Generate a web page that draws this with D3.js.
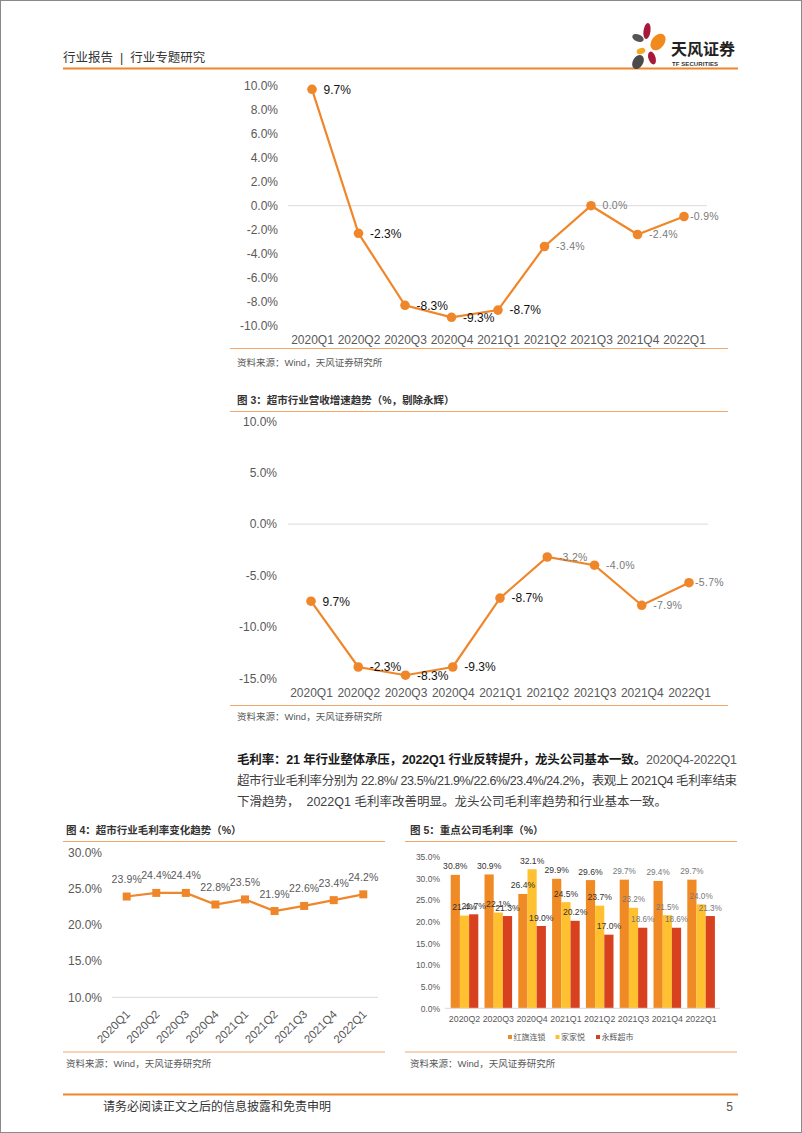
<!DOCTYPE html>
<html><head><meta charset="utf-8">
<script src="https://cdn.jsdelivr.net/npm/d3@7"></script>
<style>
body{margin:0;background:#fff}
svg{display:block}
text{font-family:"Liberation Sans",Arial,"Noto Sans CJK SC",sans-serif}
</style>
</head><body>
<svg id="page" width="802" height="1133"></svg>
<script>
// ---------- data ----------
const quartersA = ["2020Q1","2020Q2","2020Q3","2020Q4","2021Q1","2021Q2","2021Q3","2021Q4","2022Q1"];
const growthAll = [9.7,-2.3,-8.3,-9.3,-8.7,-3.4,0.0,-2.4,-0.9];
const growthAllLabels = ["9.7%","-2.3%","-8.3%","-9.3%","-8.7%","-3.4%","0.0%","-2.4%","-0.9%"];
const growthAllTicks = [10,8,6,4,2,0,-2,-4,-6,-8,-10];

const growthEx = [-7.5,-13.9,-14.7,-13.9,-7.2,-3.2,-4.0,-7.9,-5.7];
const growthExLabels = ["9.7%","-2.3%","-8.3%","-9.3%","-8.7%","-3.2%","-4.0%","-7.9%","-5.7%"];
const growthExTicks = [10,5,0,-5,-10,-15];

const grossMargin = [23.9,24.4,24.4,22.8,23.5,21.9,22.6,23.4,24.2];
const grossTicks = [30,25,20,15,10];

const quartersB = ["2020Q2","2020Q3","2020Q4","2021Q1","2021Q2","2021Q3","2021Q4","2022Q1"];
const companies = ["红旗连锁","家家悦","永辉超市"];
const hongqi = [30.8,30.9,26.4,29.9,29.6,29.7,29.4,29.7];
const jiajiayue = [21.4,22.1,32.1,24.5,23.7,23.2,21.5,24.0];
const yonghui = [21.7,21.3,19.0,20.2,17.0,18.6,18.6,21.3];
const companyTicks = [35,30,25,20,15,10,5,0];

// ---------- styles ----------
const ORANGE = "#F0862A";
const LINE = "#F2A66A";
const GRID = "#D9D9D9";
const AX = "#595959";
const barColors = ["#F08A24","#FFC12F","#D8411F"];

const svg = d3.select("#page");
svg.append("rect").attr("x",0.5).attr("y",0.5).attr("width",801).attr("height",1132)
   .attr("fill","#fff").attr("stroke","#8a8a8a").attr("stroke-width",1);

// ---------- header ----------
svg.append("text").attr("x",63).attr("y",62).attr("font-size",12.5).attr("fill","#333")
   .style("white-space","pre").text("行业报告  |  行业专题研究");
svg.append("line").attr("x1",63).attr("x2",738).attr("y1",68.5).attr("y2",68.5)
   .attr("stroke",ORANGE).attr("stroke-width",2);
// logo
const logo = svg.append("g");
const petals = [
  {cx:647,cy:31,rx:3.5,ry:8,r:8,c:"#A8183A"},
  {cx:658,cy:42,rx:6.3,ry:9.3,r:38,c:"#F18A1C"},
  {cx:638,cy:38,rx:6,ry:3.6,r:22,c:"#555"},
  {cx:641,cy:51,rx:4.4,ry:3,r:-20,c:"#F5A623"},
  {cx:652,cy:58,rx:3.6,ry:6.6,r:-18,c:"#A8183A"},
  {cx:638,cy:62,rx:5.2,ry:7.6,r:30,c:"#4a4a4a"}
];
petals.forEach(p=>{
  logo.append("ellipse").attr("cx",p.cx).attr("cy",p.cy).attr("rx",p.rx).attr("ry",p.ry)
    .attr("transform",`rotate(${p.r},${p.cx},${p.cy})`).attr("fill",p.c);
});
svg.append("text").attr("x",671).attr("y",55).attr("font-size",16).attr("font-weight","bold")
   .attr("fill","#222").style("font-family","'Noto Sans CJK SC'").text("天风证券");
svg.append("text").attr("x",672).attr("y",65.5).attr("font-size",6).attr("font-weight","bold")
   .attr("fill","#333").attr("textLength",46).text("TF SECURITIES");

// ---------- helpers ----------
function sepLine(x1,x2,y){
  svg.append("line").attr("x1",x1).attr("x2",x2).attr("y1",y).attr("y2",y)
     .attr("stroke",LINE).attr("stroke-width",1.2);
}
function source(x,y){
  svg.append("text").attr("x",x).attr("y",y).attr("font-size",9.5).attr("fill",AX)
     .text("资料来源：Wind，天风证券研究所");
}
function title(x,y,t){
  svg.append("text").attr("x",x).attr("y",y).attr("font-size",10.5).attr("font-weight","bold")
     .attr("fill","#333").text(t);
}
function styleAxis(g,size,color){
  g.select(".domain").remove();
  g.selectAll("text").attr("font-size",size).attr("fill",color||AX)
   .style("font-family","'Liberation Sans',Arial,sans-serif");
}

// ---------- line chart (charts 1 & 2) ----------
function lineChart(o){
  const x = d3.scalePoint().domain(quartersA).range([o.x0,o.x1]);
  const y = d3.scaleLinear().domain(o.ydom).range(o.yrange);
  const g = svg.append("g");
  const ya = g.append("g").attr("transform",`translate(${o.yLabX},0)`)
    .call(d3.axisLeft(y).tickValues(o.ticks).tickSize(0).tickPadding(0)
      .tickFormat(d=>d.toFixed(1)+"%"));
  styleAxis(ya,12);
  g.append("line").attr("x1",o.gx0).attr("x2",o.gx1).attr("y1",y(0)).attr("y2",y(0))
    .attr("stroke",GRID).attr("stroke-width",1);
  const xa = g.append("g").attr("transform",`translate(0,${o.xLabY-4.3})`)
    .call(d3.axisBottom(x).tickSize(0).tickPadding(0));
  styleAxis(xa,12);
  const pts = quartersA.map((q,i)=>({q,v:o.values[i],l:o.labels[i],i}));
  g.append("path").datum(pts).attr("fill","none").attr("stroke",ORANGE).attr("stroke-width",2.2)
    .attr("d",d3.line().x(d=>x(d.q)).y(d=>y(d.v)));
  g.selectAll("circle.pt").data(pts).join("circle").attr("class","pt")
    .attr("cx",d=>x(d.q)).attr("cy",d=>y(d.v)).attr("r",4.8).attr("fill",ORANGE);
  g.selectAll("text.lab").data(pts).join("text").attr("class","lab")
    .attr("x",d=>x(d.q)+(d.i===pts.length-1?6:11.5)).attr("y",d=>y(d.v)).attr("dy","0.36em")
    .attr("font-size",d=>d.i<5?12:10.5).attr("fill",d=>d.i<5?"#111":"#7a7a7a")
    .attr("letter-spacing",d=>d.i<5?0:0.3)
    .text(d=>d.l);
}

// chart 1
lineChart({values:growthAll,labels:growthAllLabels,ticks:growthAllTicks,
  x0:312,x1:684,ydom:[-10,10],yrange:[325.7,85.7],yLabX:278,gx0:288,gx1:707,xLabY:339.5});
sepLine(230,728,348.5);
source(237,365.5);

// chart 2
title(237,404,"图 3：超市行业营收增速趋势（%，剔除永辉）");
sepLine(230,728,411.5);
lineChart({values:growthEx,labels:growthExLabels,ticks:growthExTicks,
  x0:311,x1:689,ydom:[-15,10],yrange:[678.3,421.3],yLabX:277,gx0:288,gx1:708,xLabY:692.5});
sepLine(230,728,705.5);
source(237,720);

// ---------- paragraph ----------
const para = svg.append("g").attr("font-size",12.5);
const l1 = para.append("text").attr("x",237).attr("y",763.5).attr("textLength",500).attr("lengthAdjust","spacing");
l1.append("tspan").attr("font-weight","bold").attr("fill","#1a1a1a")
  .text("毛利率：21 年行业整体承压，2022Q1 行业反转提升，龙头公司基本一致。");
l1.append("tspan").attr("fill","#595959").text("2020Q4-2022Q1");
para.append("text").attr("x",237).attr("y",784.5).attr("textLength",500).attr("lengthAdjust","spacing")
  .attr("fill","#404040")
  .text("超市行业毛利率分别为 22.8%/ 23.5%/21.9%/22.6%/23.4%/24.2%，表观上 2021Q4 毛利率结束");
para.append("text").attr("x",237).attr("y",805.5).attr("fill","#404040").style("white-space","pre")
  .text("下滑趋势，  2022Q1 毛利率改善明显。龙头公司毛利率趋势和行业基本一致。");

// ---------- chart 4 ----------
title(66,834,"图 4：超市行业毛利率变化趋势（%）");
sepLine(63,385,841.5);
{
  const x = d3.scalePoint().domain(quartersA).range([126.7,363.3]);
  const y = d3.scaleLinear().domain([10,30]).range([997.3,852.3]);
  const g = svg.append("g");
  const ya = g.append("g").attr("transform","translate(102,0)")
    .call(d3.axisLeft(y).tickValues(grossTicks).tickSize(0).tickPadding(0).tickFormat(d=>d.toFixed(1)+"%"));
  styleAxis(ya,12);
  g.append("line").attr("x1",112).attr("x2",378).attr("y1",y(10)).attr("y2",y(10))
    .attr("stroke",GRID).attr("stroke-width",1);
  const pts = quartersA.map((q,i)=>({q,v:grossMargin[i]}));
  g.append("path").datum(pts).attr("fill","none").attr("stroke",ORANGE).attr("stroke-width",2.2)
    .attr("d",d3.line().x(d=>x(d.q)).y(d=>y(d.v)));
  g.selectAll("rect.pt").data(pts).join("rect").attr("class","pt")
    .attr("x",d=>x(d.q)-4).attr("y",d=>y(d.v)-4).attr("width",8).attr("height",8).attr("fill",ORANGE);
  g.selectAll("text.lab").data(pts).join("text").attr("class","lab")
    .attr("x",d=>x(d.q)).attr("y",d=>y(d.v)-13.5).attr("text-anchor","middle")
    .attr("font-size",10.5).attr("fill","#595959").attr("letter-spacing",0.1).text(d=>d.v.toFixed(1)+"%");
  g.selectAll("text.xl").data(quartersA).join("text").attr("class","xl")
    .attr("transform",d=>`translate(${x(d)+4},1015) rotate(-45)`).attr("text-anchor","end")
    .attr("font-size",11.5).attr("fill",AX).text(d=>d);
}
sepLine(63,385,1052);
source(66,1066.5);

// ---------- chart 5 ----------
title(410,834,"图 5：重点公司毛利率（%）");
sepLine(405,737,841.5);
{
  const x = d3.scaleBand().domain(quartersB).range([447.6,718]).padding(0);
  const xs = d3.scaleBand().domain(companies).range([3.1,30.7]).padding(0);
  const y = d3.scaleLinear().domain([0,35]).range([1008.3,856.7]);
  const g = svg.append("g");
  const ya = g.append("g").attr("transform","translate(440,0)")
    .call(d3.axisLeft(y).tickValues(companyTicks).tickSize(0).tickPadding(0).tickFormat(d=>d.toFixed(1)+"%"));
  styleAxis(ya,8.5);
  const series = [hongqi,jiajiayue,yonghui];
  const bars = [];
  quartersB.forEach((q,i)=>companies.forEach((c,j)=>bars.push({q,c,j,i,v:series[j][i]})));
  g.selectAll("rect.bar").data(bars).join("rect").attr("class","bar")
    .attr("x",d=>x(d.q)+xs(d.c)).attr("width",xs.bandwidth())
    .attr("y",d=>y(d.v)).attr("height",d=>y(0)-y(d.v)).attr("fill",d=>barColors[d.j]);
  g.append("line").attr("x1",445).attr("x2",720).attr("y1",y(0)).attr("y2",y(0))
    .attr("stroke",GRID).attr("stroke-width",1);
  g.selectAll("text.lab").data(bars).join("text").attr("class","lab")
    .attr("x",d=>x(d.q)+xs(d.c)+xs.bandwidth()/2).attr("y",d=>y(d.v)-5.5).attr("text-anchor","middle")
    .attr("font-size",d=>d.i<5?8.6:8.2).attr("fill",d=>d.i<5?"#333":"#777")
    .text(d=>d.v.toFixed(1)+"%");
  const xa = g.append("g").attr("transform",`translate(0,${1019-3.1})`)
    .call(d3.axisBottom(x).tickSize(0).tickPadding(0));
  styleAxis(xa,8.8);
  // legend
  const lg = g.append("g");
  const lx = [508,555.5,596];
  companies.forEach((c,j)=>{
    lg.append("rect").attr("x",lx[j]).attr("y",1035).attr("width",4).attr("height",4).attr("fill",barColors[j]);
    lg.append("text").attr("x",lx[j]+5.5).attr("y",1040).attr("font-size",8).attr("fill",AX).text(c);
  });
}
sepLine(405,737,1052);
source(410,1066.5);

// ---------- footer ----------
svg.append("line").attr("x1",63).attr("x2",738).attr("y1",1094.5).attr("y2",1094.5)
   .attr("stroke",ORANGE).attr("stroke-width",2);
svg.append("text").attr("x",103).attr("y",1110.5).attr("font-size",12).attr("fill","#333")
   .text("请务必阅读正文之后的信息披露和免责申明");
svg.append("text").attr("x",733).attr("y",1110.5).attr("font-size",12).attr("fill","#555")
   .attr("text-anchor","end").text("5");
</script>
</body></html>
